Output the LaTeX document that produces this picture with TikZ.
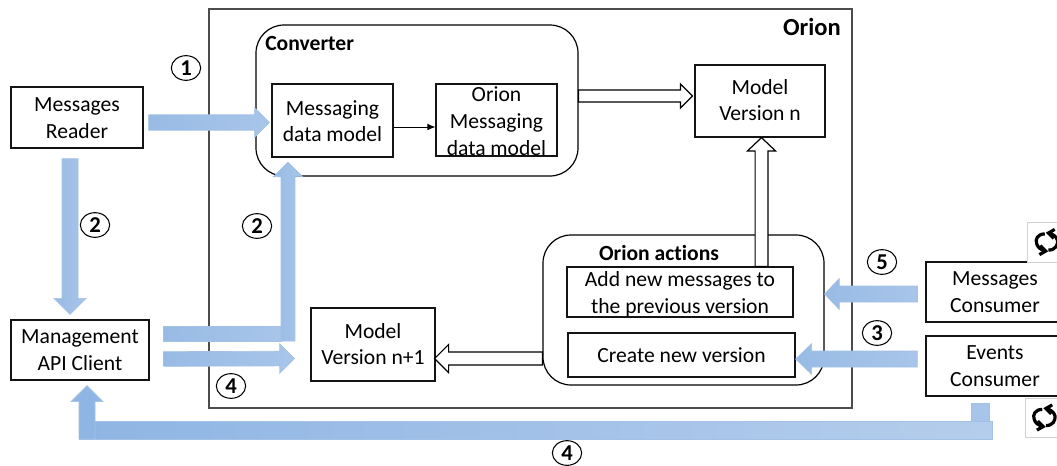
\documentclass[tikz,border=0pt]{standalone}
\usepackage{fontspec}
\setmainfont[Ligatures=NoCommon]{Carlito}
\usetikzlibrary{calc,arrows.meta,shapes.geometric}
\definecolor{arrL}{HTML}{98BBE5}
\definecolor{arrR}{HTML}{A8C5E9}
\definecolor{arrE}{HTML}{A3C1E6}
\definecolor{barL}{HTML}{8FB5E4}
\definecolor{barR}{HTML}{B5CDEC}
\newcommand\barrow[6][bluearrow]{%
  \coordinate (tmpH) at ($(#3)!#6!(#2)$);
  \draw[#1] ($(#2)!#4!90:(#3)$) -- ($(tmpH)!#4!90:(#3)$) -- ($(tmpH)!#5!90:(#3)$) -- (#3)
    -- ($(tmpH)!#5!-90:(#3)$) -- ($(tmpH)!#4!-90:(#3)$) -- ($(#2)!#4!-90:(#3)$) -- cycle;
}
\newcommand\tx[2]{\smash{\raisebox{-\dimexpr4pt+#1pt/2\relax}{\begin{tabular}{@{}c@{}}#2\end{tabular}}}}
\tikzset{
  sz/.style 2 args={minimum width=#1*0.75pt,minimum height=#2*0.75pt},
  txt/.style={font=\fontsize{16.2}{20}\selectfont,align=center,inner sep=0pt},
  boxnode/.style={txt,draw=black!92,line width=.9pt,fill=white},
  outer/.style={draw=black!70,line width=1.1pt},
  rounded/.style={draw=black,line width=.9pt,fill=white,rounded corners=21pt,inner sep=0pt},
  lbl/.style={txt,font=\fontsize{16.2}{20}\selectfont\bfseries},
  num/.style={draw=black,ellipse,line width=.8pt,inner sep=0pt,minimum width=22pt,minimum height=18.5pt,
    font=\fontsize{17}{17}\selectfont\bfseries},
  bluearrow/.style={draw=arrE,line width=.5pt,left color=arrL,right color=arrR},
  bluebar/.style={draw=arrE,line width=.5pt,left color=barL,right color=barR},
  hollow/.style={draw=black,line width=.9pt,fill=white,line join=miter},
  iconbox/.style={draw=black!18,line width=.6pt,fill=white},
  iconline/.style={draw=black,line width=2.4pt},
}
\begin{document}
\begin{tikzpicture}[x=0.75pt,y=-0.75pt]
\useasboundingbox (0,0) rectangle (1057,465);
\clip (0,0) rectangle (1057,465);
% outer box
\node[outer,sz={643}{399},inner sep=0pt] (orion) at (530.5,208.5) {};
\node[lbl,anchor=east,font=\fontsize{18.4}{20}\selectfont\bfseries] (orionlbl) at (841,27) {Orion};
% converter
\node[rounded,sz={322}{151}] (conv) at (417,100.5) {};
\node[lbl,anchor=west] (convlbl) at (265,43) {Converter};
\node[boxnode,sz={121}{73}] (msg) at (332.5,120.5) {\tx{4.5}{Messaging\\data model}};
\node[boxnode,sz={121}{72}] (omsg) at (496.5,120) {\tx{5.2}{Orion\\Messaging\\data model}};
\node[boxnode,sz={130}{72}] (modeln) at (760,101) {\tx{2.5}{Model\\Version n}};
% actions
\node[rounded,sz={281}{150}] (act) at (683.5,310) {};
\node[lbl] (actlbl) at (659,253) {Orion actions};
\node[boxnode,sz={226}{50}] (add) at (680,292) {\tx{4.7}{Add new messages to\\the previous version}};
\node[boxnode,sz={227}{44}] (create) at (681.5,355) {Create new version};
\node[boxnode,sz={124}{73}] (modelnp) at (373,344.5) {\tx{3}{Model\\Version n+1}};
% outside
\node[boxnode,sz={132}{61}] (reader) at (77,117.5) {\tx{3.8}{Messages\\Reader}};
\node[boxnode,sz={138}{60}] (api) at (80,350) {\tx{3}{Management\\API Client}};
\node[boxnode,sz={138}{60}] (mc) at (995,292) {\tx{3}{Messages\\Consumer}};
\node[boxnode,sz={138}{60}] (ec) at (995,366) {\tx{3}{Events\\Consumer}};
% icons
\node[iconbox,sz={40}{40},inner sep=0pt] (icona) at (1047.5,242) {};
\node[iconbox,sz={40}{39},inner sep=0pt] (iconb) at (1045,417.5) {};
\foreach \ic in {icona,iconb}{
  \begin{scope}[shift={(\ic.center)},scale=.9]
    \draw[iconline] (-3,-9) .. controls (-11,-9) and (-14,-3) .. (-12,2) .. controls (-11,6) and (-7,9) .. (-2,10);
    \draw[iconline,line join=miter] (-8,4) -- (-2,10) -- (-9,14);
    \draw[iconline] (1,9) .. controls (9,9) and (12,3) .. (11,-2) .. controls (10,-6) and (6,-9) .. (1,-10);
    \draw[iconline,line join=miter] (7,-4) -- (1,-10) -- (8,-14);
  \end{scope}
}
% thin arrow
\draw[line width=.6pt,-{Latex[length=6pt,width=5pt]}] (msg.east|-0,127) coordinate (thinS) -- (omsg.west|-0,127) coordinate (thinE);
% hollow arrows
\coordinate (h1s) at ($(conv.east)+(0,-4.5)$);
\coordinate (h1e) at ($(modeln.west)+(-2,-5)$);
\barrow[hollow]{h1s}{h1e}{4.5pt}{9pt}{9pt}
\coordinate (h2s) at ($(add.north)+(81.5,0)$);
\coordinate (h2e) at ($(h2s|-modeln.south)$);
\barrow[hollow]{h2s}{h2e}{4.8pt}{10.5pt}{10pt}
\coordinate (h3s) at ($(act.west)+(0,48.5)$);
\coordinate (h3e) at ($(modelnp.east)+(-1,14)$);
\barrow[hollow]{h3s}{h3e}{4.9pt}{10.5pt}{10.5pt}
% blue arrows
\coordinate (a1s) at ($(reader.east)+(5,5)$);
\coordinate (a1e) at ($(msg.west)+(-2,2)$);
\barrow{a1s}{a1e}{5.8pt}{11pt}{11pt}
\coordinate (a2s) at ($(reader.south)+(-7,10)$);
\coordinate (a2e) at ($(api.north)+(-10,-5)$);
\barrow{a2s}{a2e}{6pt}{12pt}{12pt}
% API -> converter (elbow)
\coordinate (a3s) at ($(api.east)+(14,-24)$);
\draw[bluearrow] (a3s) rectangle (281,341);
\coordinate (a3b) at (288,341);
\coordinate (a3e) at (288,162);
\barrow{a3b}{a3e}{5.2pt}{11pt}{11pt}
% API -> model n+1
\coordinate (a4s) at ($(api.east)+(14,9)$);
\coordinate (a4e) at ($(modelnp.west)+(-16,14)$);
\barrow{a4s}{a4e}{5.5pt}{11pt}{11pt}
% consumers
\coordinate (a5s) at ($(mc.west)+(-8,2)$);
\coordinate (a5e) at ($(act.east)+(0,-16)$);
\barrow{a5s}{a5e}{6pt}{11.6pt}{11pt}
\coordinate (a6s) at ($(ec.west)+(-8,-7)$);
\coordinate (a6e) at ($(create.east)+(0,4)$);
\barrow{a6s}{a6e}{6pt}{11.4pt}{12pt}
% bottom return
\coordinate (a7c) at ($(ec.south)+(-24,7)$);
\draw[draw=arrE,line width=.5pt,fill=arrL!85!white] (a7c) rectangle ++(18,18);
\draw[bluebar] (79,421) rectangle (992,439);
\coordinate (a7b) at (87,439);
\coordinate (a7e) at ($(api.south)+(7,5)$);
\barrow[bluearrow,left color=barL,right color=barL]{a7b}{a7e}{6pt}{12pt}{12pt}
% numbers
\node[num] (n1) at (186,68) {1};
\node[num] (n2a) at (95,225) {2};
\node[num] (n2b) at (257,226) {2};
\node[num] (n4a) at (231,386) {4};
\node[num] (n4b) at (567,453) {4};
\node[num] (n5) at (882,262) {5};
\node[num] (n3) at (877,333) {3};
\end{tikzpicture}
\end{document}
